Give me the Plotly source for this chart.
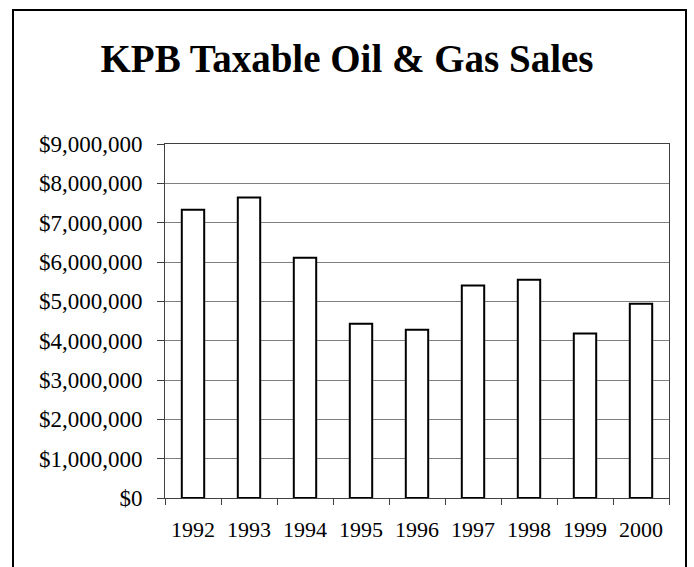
import plotly.graph_objects as go

years = ["1992", "1993", "1994", "1995", "1996", "1997", "1998", "1999", "2000"]
sales = [7330000, 7640000, 6110000, 4430000, 4280000, 5400000, 5550000, 4180000, 4940000]
y_ticks = [0, 1000000, 2000000, 3000000, 4000000, 5000000, 6000000, 7000000, 8000000, 9000000]
y_tick_labels = ["$" + format(v, ",") for v in y_ticks]

W, H = 694, 567
ML, MR, MT, MB = 165, 25, 144, 69
SERIF = "Liberation Serif, Times New Roman, serif"

fig = go.Figure(go.Bar(
    x=years, y=sales,
    marker=dict(color="white", line=dict(color="black", width=2)),
))

pw = W - ML - MR
ph = H - MT - MB
def px_x(p):
    return (p - ML) / pw
def px_y(p):
    return (H - MB - p) / ph

fig.update_layout(
    width=W, height=H,
    margin=dict(l=ML, r=MR, t=MT, b=MB),
    paper_bgcolor="white", plot_bgcolor="white",
    bargap=0.6,
    showlegend=False,
    font=dict(family=SERIF, size=22, color="black"),
    title=dict(text="<b>KPB Taxable Oil & Gas Sales</b>", x=0.5, xref="container",
               xanchor="center", y=1 - 58 / H, yref="container", yanchor="middle",
               font=dict(family=SERIF, size=39, color="black")),
    xaxis=dict(showline=True, linecolor="#404040", linewidth=1, mirror=True,
               ticks="outside", ticklen=6, tickcolor="#404040", tickson="boundaries",
               tickfont=dict(family=SERIF, size=22), ticklabelstandoff=12,
               showgrid=False, fixedrange=True),
    yaxis=dict(range=[0, 9000000], tickvals=y_ticks, ticktext=y_tick_labels,
               showline=True, linecolor="#404040", linewidth=1, mirror=True,
               ticks="outside", ticklen=7, tickcolor="#404040",
               tickfont=dict(family=SERIF, size=23), ticklabelstandoff=10,
               showgrid=True, gridcolor="#808080", gridwidth=1, zeroline=False),
    shapes=[dict(type="rect", xref="paper", yref="paper",
                 x0=px_x(13), x1=px_x(686), y0=px_y(575), y1=px_y(10),
                 line=dict(color="black", width=2), fillcolor="rgba(0,0,0,0)", layer="below")],
)

fig.write_html("out.html", config={"displayModeBar": False},
               post_script="document.body.style.margin='0';")
